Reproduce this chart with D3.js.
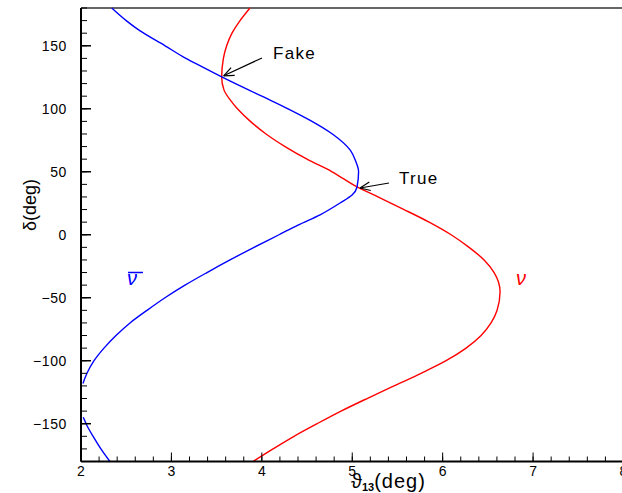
<!DOCTYPE html>
<html>
<head>
<meta charset="utf-8">
<script src="https://cdn.jsdelivr.net/npm/d3@7"></script>
<style>
  html, body { margin: 0; padding: 0; background: #fff; }
  svg { display: block; }
  text { font-family: "Liberation Sans", Arial, sans-serif; }
</style>
</head>
<body>
<svg id="chart" width="622" height="493"></svg>
<script>
// δ (deg) sampled along each curve, with the matching θ13 (deg)
const nuDelta = [180, 170, 160, 150, 140, 125, 115, 107, 100, 91, 80, 70, 60, 50, 38, 30, 20, 10, 0, -10, -20, -30, -45, -60, -70, -80, -90, -100, -110, -120, -130, -140, -150, -160, -170, -180];
const nuTheta = [3.869, 3.759, 3.670, 3.611, 3.575, 3.556, 3.581, 3.650, 3.730, 3.858, 4.046, 4.257, 4.500, 4.777, 5.053, 5.285, 5.573, 5.850, 6.093, 6.292, 6.458, 6.569, 6.635, 6.602, 6.535, 6.425, 6.259, 6.038, 5.761, 5.462, 5.164, 4.876, 4.611, 4.356, 4.124, 3.903];

// ν̄ curve leaves the plotted θ13 range near δ ≈ −130°, so it comes in two pieces
const nubarDeltaA = [180, 170, 162, 150, 140, 134, 125.4, 110, 100, 91, 80, 67, 58, 50, 37.9, 31.5, 25.2, 15.8, 7.7, 0, -10, -20, -30, -40, -50, -60, -70, -80, -90, -100, -110, -118];
const nubarThetaA = [2.34, 2.50, 2.65, 2.93, 3.16, 3.32, 3.556, 4.00, 4.29, 4.53, 4.78, 4.98, 5.04, 5.07, 5.053, 4.998, 4.865, 4.644, 4.40, 4.19, 3.914, 3.648, 3.394, 3.150, 2.929, 2.73, 2.542, 2.387, 2.254, 2.144, 2.066, 2.022];
const nubarDeltaB = [-144.9, -152, -160.3, -170, -180];
const nubarThetaB = [2.025, 2.07, 2.136, 2.22, 2.32];

const xTicks = [2, 3, 4, 5, 6, 7, 8];
const yTicks = [-150, -100, -50, 0, 50, 100, 150];

const svg = d3.select("#chart");
const x = d3.scaleLinear().domain([2, 8]).range([81, 623.5]);
const y = d3.scaleLinear().domain([-180, 180]).range([461.5, 8]);

// θ13 is a function of δ, so interpolate along δ (sorted ascending)
const line = d3.line()
  .x(d => x(d[0]))
  .y(d => y(d[1]))
  .curve(d3.curveMonotoneY);

const zip = (t, d) => t.map((v, i) => [v, d[i]]).sort((a, b) => b[1] - a[1]);

// frame: top edge
svg.append("line")
  .attr("x1", x(2)).attr("x2", 622)
  .attr("y1", y(180)).attr("y2", y(180))
  .attr("stroke", "#333").attr("stroke-width", 1.5);

// curves
svg.append("path").datum(zip(nuTheta, nuDelta))
  .attr("d", line).attr("fill", "none").attr("stroke", "#ff0000").attr("stroke-width", 1.4);
svg.append("path").datum(zip(nubarThetaA, nubarDeltaA))
  .attr("d", line).attr("fill", "none").attr("stroke", "#0000ff").attr("stroke-width", 1.4);
svg.append("path").datum(zip(nubarThetaB, nubarDeltaB))
  .attr("d", line).attr("fill", "none").attr("stroke", "#0000ff").attr("stroke-width", 1.4);

// x axis with inward ticks
const xMinor = d3.range(2, 8.001, 0.2).map(v => +v.toFixed(1));
const gx = svg.append("g");
gx.selectAll("line.minor").data(xMinor).join("line")
  .attr("x1", d => x(d)).attr("x2", d => x(d))
  .attr("y1", y(-180)).attr("y2", y(-180) - 5)
  .attr("stroke", "#000").attr("stroke-width", 1);
gx.selectAll("line.major").data(xTicks).join("line")
  .attr("x1", d => x(d)).attr("x2", d => x(d))
  .attr("y1", y(-180)).attr("y2", y(-180) - 9)
  .attr("stroke", "#000").attr("stroke-width", 1);
gx.append("line")
  .attr("x1", x(2)).attr("x2", 622).attr("y1", y(-180)).attr("y2", y(-180))
  .attr("stroke", "#000").attr("stroke-width", 2);
gx.selectAll("text").data(xTicks).join("text")
  .attr("x", d => x(d)).attr("y", 476)
  .attr("text-anchor", "middle").attr("font-size", 14)
  .text(d => d);

// y axis with inward ticks
const yMinor = d3.range(-180, 181, 10);
const gy = svg.append("g");
gy.selectAll("line.minor").data(yMinor).join("line")
  .attr("x1", x(2)).attr("x2", x(2) + 6)
  .attr("y1", d => y(d)).attr("y2", d => y(d))
  .attr("stroke", "#000").attr("stroke-width", 1);
gy.selectAll("line.major").data(yTicks).join("line")
  .attr("x1", x(2)).attr("x2", x(2) + 10)
  .attr("y1", d => y(d)).attr("y2", d => y(d))
  .attr("stroke", "#000").attr("stroke-width", 1.5);
gy.append("line")
  .attr("x1", x(2)).attr("x2", x(2)).attr("y1", y(180)).attr("y2", y(-180))
  .attr("stroke", "#000").attr("stroke-width", 2);
gy.selectAll("text").data(yTicks).join("text")
  .attr("x", 67).attr("y", d => y(d) + 5)
  .attr("text-anchor", "end").attr("font-size", 14).attr("letter-spacing", 0.6)
  .text(d => d === 0 ? "0" : (d < 0 ? "\u2212" + Math.abs(d) : d));

// axis titles
const xt = svg.append("text").attr("x", 351).attr("y", 488).attr("font-size", 20);
xt.append("tspan").text("\u03D1");
xt.append("tspan").attr("font-size", 11).attr("dy", 3).attr("font-weight", "bold").text("13");
xt.append("tspan").attr("dy", -3).attr("letter-spacing", 1).text("(deg)");

svg.append("text")
  .attr("transform", "translate(36,205) rotate(-90)")
  .attr("text-anchor", "middle").attr("font-size", 18)
  .text("\u03B4(deg)");

// annotations
const arrow = (x1, y1, x2, y2) => {
  const g = svg.append("g").attr("stroke", "#000").attr("stroke-width", 1.2).attr("fill", "none");
  g.append("line").attr("x1", x1).attr("y1", y1).attr("x2", x2).attr("y2", y2);
  const a = Math.atan2(y1 - y2, x1 - x2), L = 11, s = 0.4;
  g.append("line").attr("x1", x2).attr("y1", y2)
    .attr("x2", x2 + L * Math.cos(a + s)).attr("y2", y2 + L * Math.sin(a + s));
  g.append("line").attr("x1", x2).attr("y1", y2)
    .attr("x2", x2 + L * Math.cos(a - s)).attr("y2", y2 + L * Math.sin(a - s));
};
arrow(262, 58, x(3.556) + 2, y(125.4) - 1);
svg.append("text").attr("x", 273).attr("y", 59).attr("font-size", 17).attr("letter-spacing", 1.3).text("Fake");
arrow(389, 183, x(5.053) + 3, y(37.9) + 1);
svg.append("text").attr("x", 399).attr("y", 184).attr("font-size", 17).attr("letter-spacing", 1.3).text("True");

// curve labels
svg.append("text").attr("x", 127).attr("y", 285)
  .attr("font-family", "DejaVu Serif, serif").attr("font-style", "italic")
  .attr("font-size", 20).attr("fill", "#0000ff").text("\u03BD");
svg.append("line").attr("x1", 128).attr("x2", 143).attr("y1", 272.5).attr("y2", 272.5)
  .attr("stroke", "#0000ff").attr("stroke-width", 1.5);
svg.append("text").attr("x", 516).attr("y", 285)
  .attr("font-family", "DejaVu Serif, serif").attr("font-style", "italic")
  .attr("font-size", 20).attr("fill", "#ff0000").text("\u03BD");
</script>
</body>
</html>
